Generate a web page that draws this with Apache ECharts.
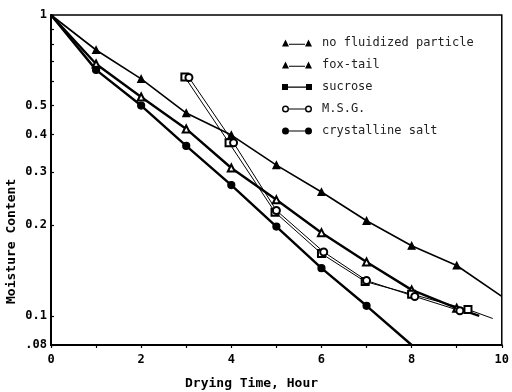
<!DOCTYPE html>
<html>
<head>
<meta charset="utf-8">
<script src="https://cdn.jsdelivr.net/npm/echarts@6/dist/echarts.min.js"></script>
<style>
html,body{margin:0;padding:0;background:#fff;}
#chart{width:512px;height:392px;}
</style>
</head>
<body>
<div id="chart"></div>
<script>
// ---- data ----
const seriesNames = ['no fluidized particle', 'fox-tail', 'sucrose', 'M.S.G.', 'crystalline salt'];

const noFluidX = [0, 1, 2, 3, 4, 5, 6, 7, 8, 9, 10];
const noFluidY = [1, 0.765, 0.613, 0.472, 0.399, 0.317, 0.258, 0.207, 0.171, 0.147, 0.116];

const foxTailX = [0, 1, 2, 3, 4, 5, 6, 7, 8, 9, 9.5];
const foxTailY = [1, 0.687, 0.534, 0.418, 0.310, 0.243, 0.189, 0.151, 0.122, 0.106, 0.100];

const sucroseX = [2.97, 3.95, 4.97, 6.0, 6.97, 8.0, 9.25, 9.8];
const sucroseY = [0.622, 0.376, 0.221, 0.161, 0.130, 0.118, 0.105, 0.098];

const msgX = [3.06, 4.05, 5.0, 6.05, 7.0, 8.07, 9.07];
const msgY = [0.620, 0.376, 0.224, 0.163, 0.131, 0.116, 0.104];

const saltX = [0, 1, 2, 3, 4, 5, 6, 7, 8];
const saltY = [1, 0.657, 0.500, 0.367, 0.272, 0.198, 0.144, 0.108, 0.080];

const xLabelValues = [0, 2, 4, 6, 8, 10];
const yLabelValues = [0.08, 0.1, 0.2, 0.3, 0.4, 0.5, 1];
const yLabelTexts = ['.08', '0.1', '0.2', '0.3', '0.4', '0.5', '1'];
const yTickValues = [0.08, 0.1, 0.2, 0.3, 0.4, 0.5, 0.6, 0.7, 0.8, 0.9, 1];

const xTitle = 'Drying Time, Hour';
const yTitle = 'Moisture Content';

// ---- build ----
// series whose last point is only a line continuation (no marker)
const openEnd = [true, true, true, false, true];

function pts(xs, ys, tailOpen) {
  return xs.map((x, i) => {
    const item = { value: [x, ys[i]] };
    if (x === 0 || (tailOpen && i === xs.length - 1)) item.symbol = 'none';
    return item;
  });
}

const mono = 'DejaVu Sans Mono';
const styles = [
  { symbol: 'triangle', width: 1.6 },
  { symbol: 'emptyTriangle', width: 2.4 },
  { symbol: 'emptyRect', width: 1 },
  { symbol: 'emptyCircle', width: 1 },
  { symbol: 'circle', width: 2.4 }
];
const icons = [
  'path://M0,7L3.5,0L7,7Z M7,4.2L23,4.2L23,5.3L7,5.3Z M23,7L26.5,0L30,7Z',
  'path://M0,7L3.5,0L7,7Z M7,4.2L23,4.2L23,5.3L7,5.3Z M23,7L26.5,0L30,7Z',
  'path://M0,0.5L6,0.5L6,6.5L0,6.5Z M6,3L24,3L24,4.2L6,4.2Z M24,0.5L30,0.5L30,6.5L24,6.5Z M0,0L0.01,0L0.01,7L0,7Z',
  'path://M0,3.5A3.5,3.5 0 1 1 7,3.5A3.5,3.5 0 1 1 0,3.5Z M1.4,3.5A2.1,2.1 0 1 0 5.6,3.5A2.1,2.1 0 1 0 1.4,3.5Z M7,3L23,3L23,4L7,4Z M23,3.5A3.5,3.5 0 1 1 30,3.5A3.5,3.5 0 1 1 23,3.5Z M24.4,3.5A2.1,2.1 0 1 0 28.6,3.5A2.1,2.1 0 1 0 24.4,3.5Z',
  'path://M0,3.5A3.5,3.5 0 1 1 7,3.5A3.5,3.5 0 1 1 0,3.5Z M7,3L23,3L23,4L7,4Z M23,3.5A3.5,3.5 0 1 1 30,3.5A3.5,3.5 0 1 1 23,3.5Z'
];
const allX = [noFluidX, foxTailX, sucroseX, msgX, saltX];
const allY = [noFluidY, foxTailY, sucroseY, msgY, saltY];

const series = seriesNames.map((name, k) => ({
  name: name,
  type: 'line',
  data: pts(allX[k], allY[k], openEnd[k]),
  symbol: styles[k].symbol,
  symbolSize: 7,
  showSymbol: true,
  lineStyle: { color: '#000', width: styles[k].width },
  itemStyle: { color: '#000', borderColor: '#000', borderWidth: 1.2 },
  emphasis: { disabled: true },
  animation: false,
  z: 3
}));

const chart = echarts.init(document.getElementById('chart'), null, { renderer: 'canvas' });
chart.setOption({
  backgroundColor: '#fff',
  animation: false,
  grid: { left: 51, right: 7, top: 15, bottom: 47, show: true, borderColor: '#000', borderWidth: 1.5, backgroundColor: 'transparent' },
  legend: {
    orient: 'vertical',
    left: 277,
    top: 32,
    itemWidth: 30,
    itemHeight: 7,
    itemGap: 10,
    selectedMode: false,
    data: seriesNames.map((n, k) => ({ name: n, icon: icons[k], itemStyle: { color: '#000', borderWidth: 0 } })),
    textStyle: { fontFamily: mono, fontSize: 12, color: '#222', padding: [0, 0, 0, 5] }
  },
  xAxis: {
    type: 'value',
    min: 0,
    max: 10,
    interval: 1,
    axisLine: { show: true, lineStyle: { color: '#000', width: 2 } },
    axisTick: { show: true, length: 3, lineStyle: { color: '#000', width: 1.2 } },
    axisLabel: {
      customValues: xLabelValues,
      margin: 9,
      fontFamily: mono, fontSize: 12, fontWeight: 'bold', color: '#000'
    },
    splitLine: { show: false }
  },
  yAxis: {
    type: 'log',
    logBase: 10,
    min: 0.08,
    max: 1,
    axisLine: { show: true, lineStyle: { color: '#000', width: 2 } },
    axisTick: { show: true, inside: true, length: 3, customValues: yTickValues, lineStyle: { color: '#000', width: 1.2 } },
    axisLabel: {
      customValues: yLabelValues,
      margin: 4,
      fontFamily: mono, fontSize: 12, fontWeight: 'bold', color: '#000',
      formatter: function (v) {
        let best = 0, bd = Infinity;
        yLabelValues.forEach((lv, i) => { const d = Math.abs(lv - v); if (d < bd) { bd = d; best = i; } });
        return yLabelTexts[best];
      }
    },
    splitLine: { show: false },
    minorSplitLine: { show: false }
  },
  graphic: [
    { type: 'text', left: 185, top: 377, style: { text: xTitle, font: 'bold 13px "DejaVu Sans Mono"', fill: '#000' } },
    { type: 'text', x: 5, y: 304, rotation: Math.PI / 2, style: { text: yTitle, font: 'bold 13px "DejaVu Sans Mono"', fill: '#000', textVerticalAlign: 'top' } }
  ],
  series: series
});
</script>
</body>
</html>
